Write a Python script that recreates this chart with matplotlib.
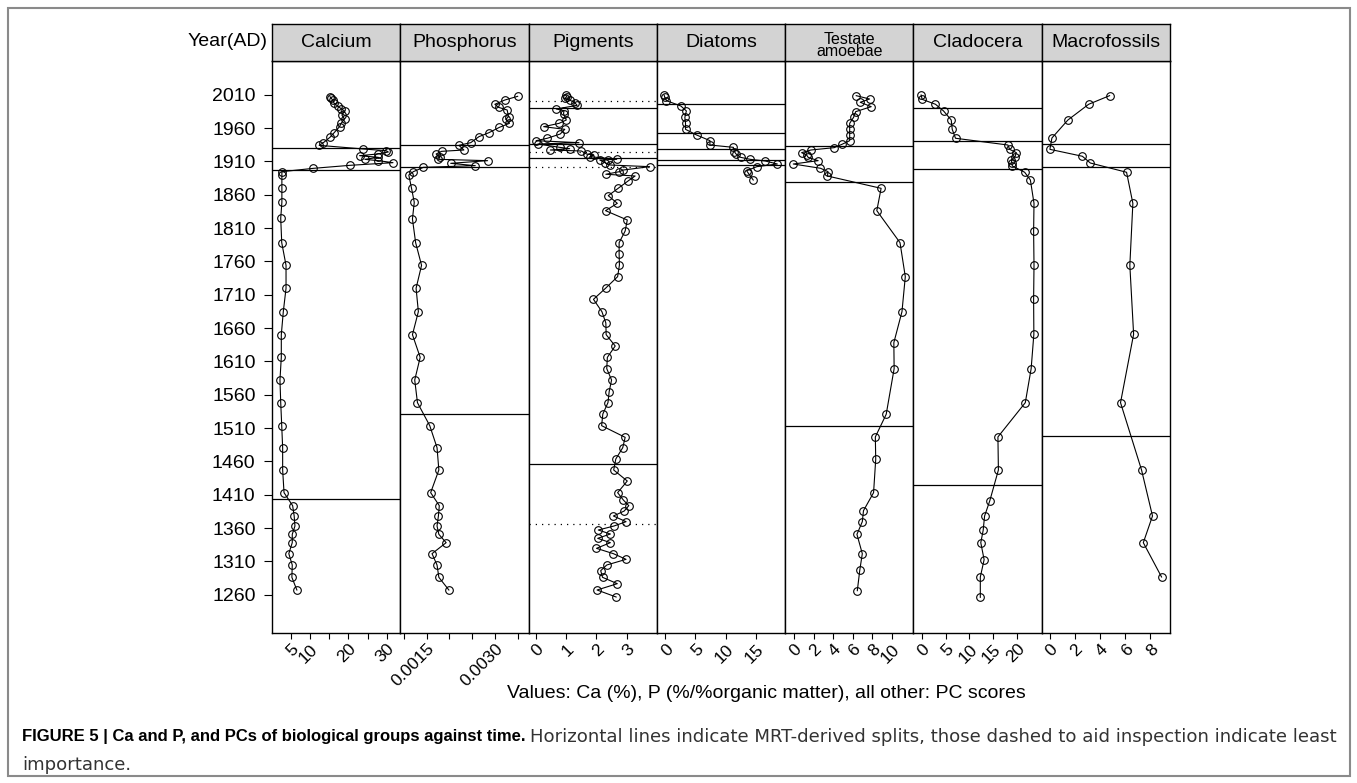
import matplotlib
matplotlib.use('Agg')
import matplotlib.pyplot as plt
from matplotlib.patches import Rectangle

plt.rcParams['font.family'] = ['Liberation Sans', 'DejaVu Sans']

# ---------------- data ----------------
panel_names = ['Calcium', 'Phosphorus', 'Pigments', 'Diatoms', 'Testate\namoebae', 'Cladocera', 'Macrofossils']

ca_year = [2007, 2005, 2002, 1997, 1993, 1989, 1985.5, 1979.5, 1973.5, 1967, 1962, 1953, 1946, 1938, 1934,
           1928.5, 1926, 1924, 1921, 1918.5, 1916, 1913, 1911, 1908, 1904, 1899.5, 1894.5, 1889, 1870.5,
           1848.6, 1824.6, 1788, 1754, 1719.6, 1684.5, 1650, 1616, 1582, 1548, 1513.5, 1480.5, 1447, 1413,
           1393.5, 1378, 1363, 1350.5, 1338, 1321.5, 1304.5, 1286, 1267]
ca_val = [15.2, 15.5, 15.9, 16.3, 17.2, 18.1, 19.0, 18.3, 19.0, 18.1, 17.7, 16.3, 15.2, 13.5, 12.4,
          23.9, 29.8, 30.4, 27.6, 22.9, 27.8, 24.3, 27.8, 31.6, 20.4, 10.9, 2.7, 2.7, 2.7,
          2.7, 2.4, 2.66, 3.78, 3.78, 3.07, 2.55, 2.55, 2.2, 2.4, 2.66, 2.9, 2.9, 3.26,
          5.5, 5.9, 6.1, 5.4, 5.4, 4.5, 5.4, 5.3, 6.6]

p_year = [2007.5, 2002, 1995.6, 1991, 1987, 1977, 1973, 1967, 1961, 1953, 1947, 1938, 1934, 1927, 1925,
          1921, 1916, 1913, 1911, 1907, 1903.5, 1901, 1894.5, 1889.5, 1869.5, 1848.6, 1823.5, 1788, 1754,
          1719.6, 1684.5, 1650, 1616, 1582, 1548, 1513.5, 1480.5, 1447, 1413, 1393.5, 1378, 1363, 1350.5,
          1338, 1321.5, 1304.5, 1286, 1267]
p_val = [0.00350, 0.00322, 0.00300, 0.00308, 0.00327, 0.00330, 0.00324, 0.00332, 0.00310, 0.00287, 0.00265,
         0.00247, 0.00221, 0.00232, 0.00183, 0.00171, 0.00179, 0.00176, 0.00284, 0.00203, 0.00257, 0.00143,
         0.00121, 0.00111, 0.00117, 0.00123, 0.00119, 0.00126, 0.00139, 0.00127, 0.00132, 0.00119, 0.00136,
         0.00124, 0.00130, 0.00157, 0.00173, 0.00177, 0.00159, 0.00178, 0.00176, 0.00173, 0.00177, 0.00193,
         0.00162, 0.00173, 0.00177, 0.00199]

pig_year = [2009, 2007, 2004.5, 2002, 1998, 1994, 1988.5, 1986, 1981, 1972, 1967, 1962, 1958, 1951, 1944.6,
            1941, 1938, 1936, 1931, 1929, 1927, 1925.5, 1921, 1919.5, 1917, 1913, 1912.5, 1912, 1908, 1904.5,
            1902, 1897, 1894.5, 1890.6, 1888, 1881, 1869.6, 1858.5, 1847, 1836, 1822, 1805.5, 1788, 1771,
            1754.5, 1737, 1719.6, 1703, 1684.5, 1667.5, 1650, 1633, 1616, 1599, 1582, 1564.5, 1548, 1531,
            1513.5, 1496, 1480.5, 1463.5, 1447, 1430.5, 1413, 1402, 1393.5, 1385.5, 1378, 1369.5, 1363,
            1357, 1351, 1344.5, 1338, 1329.5, 1321.5, 1313, 1304.5, 1296, 1286, 1276.5, 1267, 1256.5]
pig_val = [0.98, 1.02, 0.95, 1.11, 1.28, 1.36, 0.67, 0.92, 0.91, 1.0, 0.76, 0.25, 0.95, 0.8, 0.37,
           0.0, 1.42, 0.06, 0.78, 1.11, 0.47, 1.5, 1.67, 1.91, 1.78, 2.67, 2.39, 2.11, 2.28, 2.45,
           3.76, 2.89, 2.76, 2.31, 3.28, 3.06, 2.72, 2.39, 2.69, 2.3, 3.02, 2.95, 2.75, 2.75,
           2.76, 2.7, 2.3, 1.9, 2.18, 2.31, 2.32, 2.62, 2.36, 2.34, 2.5, 2.42, 2.38, 2.21,
           2.17, 2.95, 2.87, 2.64, 2.57, 3.02, 2.7, 2.89, 3.07, 2.92, 2.56, 2.98, 2.58,
           2.06, 2.46, 2.04, 2.46, 2.0, 2.56, 2.98, 2.34, 2.14, 2.2, 2.69, 2.02, 2.65]

dia_year = [2009.5, 2006, 2001, 1993, 1985.6, 1976, 1967, 1958, 1949.5, 1941, 1934.5, 1931, 1924.5, 1921,
            1916, 1913, 1910.5, 1906, 1902, 1896, 1892, 1882]
dia_val = [-0.2, -0.08, 0.2, 2.58, 3.5, 3.25, 3.36, 3.36, 5.2, 7.42, 7.4, 11.3, 11.47, 11.75,
           12.5, 14.1, 16.6, 18.6, 15.2, 13.5, 13.8, 14.6]

tes_year = [2008.5, 2003.5, 1998.6, 1992, 1984.5, 1976, 1967, 1958, 1949.5, 1941, 1935.5, 1930.5, 1927, 1923,
            1919.5, 1916, 1911, 1906, 1899.6, 1894.5, 1888, 1869.5, 1836, 1788, 1737, 1684.5, 1638, 1599,
            1530.6, 1496.6, 1463, 1413, 1386, 1369.5, 1350.5, 1321.5, 1296.6, 1266]
tes_val = [6.36, 7.72, 6.77, 7.89, 6.3, 6.09, 5.69, 5.69, 5.69, 5.69, 4.9, 4.1, 1.73, 0.78,
           1.29, 1.45, 2.47, -0.07, 2.71, 3.48, 3.42, 8.9, 8.46, 10.83, 11.37, 11.03, 10.2, 10.23,
           9.42, 8.31, 8.35, 8.13, 7.1, 6.98, 6.43, 6.98, 6.72, 6.47]

cla_year = [2009.5, 2003, 1995.6, 1985.6, 1972, 1958, 1944.6, 1934.5, 1928, 1923, 1917, 1912, 1907, 1903,
            1893.6, 1882, 1847, 1805, 1754, 1703, 1650.6, 1599, 1548, 1496.6, 1447, 1401, 1378, 1356.5,
            1338, 1312.5, 1286.5, 1256]
cla_val = [-0.13, 0.08, 2.88, 4.57, 6.19, 6.4, 7.09, 18.1, 18.46, 19.87, 19.58, 18.82, 18.95, 19.03,
           21.62, 22.82, 23.58, 23.5, 23.58, 23.5, 23.55, 22.98, 21.75, 16.0, 16.1, 14.3, 13.2, 12.9,
           12.4, 13.1, 12.3, 12.3]

mac_year = [2008.5, 1995.6, 1972, 1945, 1928, 1917.6, 1907.5, 1893.6, 1847, 1754, 1650.6, 1548, 1447,
            1378, 1338, 1286.5]
mac_val = [4.76, 3.1, 1.45, 0.18, 0.02, 2.6, 3.23, 6.11, 6.61, 6.37, 6.67, 5.63, 7.3,
           8.17, 7.44, 8.89]

# MRT splits (solid) and least-important splits (dotted)
ca_split = [1930.5, 1897, 1403]
p_split = [1935, 1902, 1531]
pig_split = [1990.5, 1935.6, 1914.6, 1455.5]
pig_split_minor = [2000, 1923.6, 1902, 1366.5]
dia_split = [1995.5, 1953, 1928, 1911.5, 1904.5]
tes_split = [1933, 1878.6, 1513.5]
cla_split = [1990.5, 1940.5, 1898, 1424.5]
mac_split = [1936, 1901, 1497.6]

year_ticks = [2010, 1960, 1910, 1860, 1810, 1760, 1710, 1660, 1610, 1560, 1510, 1460, 1410, 1360, 1310, 1260]

ca_ticks = [5, 10, 15, 20, 25, 30]
ca_labels = ['5', '10', '', '20', '', '30']
p_ticks = [0.0010, 0.0015, 0.0020, 0.0025, 0.0030, 0.0035]
p_labels = ['', '0.0015', '', '', '0.0030', '']
pig_ticks = [0, 1, 2, 3]
dia_ticks = [0, 5, 10, 15]
tes_ticks = [0, 2, 4, 6, 8, 10]
cla_ticks = [0, 5, 10, 15, 20]
mac_ticks = [0, 2, 4, 6, 8]

x_label = 'Values: Ca (%), P (%/%organic matter), all other: PC scores'
cap_bold = 'FIGURE 5 | Ca and P, and PCs of biological groups against time.'
cap_rest = 'Horizontal lines indicate MRT-derived splits, those dashed to aid inspection indicate least'
cap_line2 = 'importance.'

# ---------------- layout ----------------
W, H = 1357, 783
fig = plt.figure(figsize=(W / 100, H / 100), dpi=100)


def fx(px):
    return px / W


def fy(py):
    return 1 - py / H


left, right = 272, 1170
strip_top, strip_bot, panel_bot = 24, 61, 633
pw = (right - left) / 7

panels = [
    (ca_val, ca_year, ca_split, [], ca_ticks, ca_labels, (0.13, 33.5)),
    (p_val, p_year, p_split, [], p_ticks, p_labels, (0.000923, 0.00374)),
    (pig_val, pig_year, pig_split, pig_split_minor, pig_ticks, [str(t) for t in pig_ticks], (-0.25, 4.0)),
    (dia_val, dia_year, dia_split, [], dia_ticks, [str(t) for t in dia_ticks], (-1.4, 19.9)),
    (tes_val, tes_year, tes_split, [], tes_ticks, [str(t) for t in tes_ticks], (-0.9, 12.2)),
    (cla_val, cla_year, cla_split, [], cla_ticks, [str(t) for t in cla_ticks], (-1.75, 25.2)),
    (mac_val, mac_year, mac_split, [], mac_ticks, [str(t) for t in mac_ticks], (-0.63, 9.56)),
]

for i, (vals, yrs, splits, minor, ticks, labels, xlim) in enumerate(panels):
    x0 = left + i * pw
    ax = fig.add_axes([fx(x0), fy(panel_bot), pw / W, (panel_bot - strip_bot) / H])
    for s in ax.spines.values():
        s.set_linewidth(1.0)
        s.set_color('black')
    for y in splits:
        ax.axhline(y, color='black', lw=0.9, zorder=1)
    for y in minor:
        ax.axhline(y, color='black', lw=0.9, ls=(0, (1, 4)), zorder=1)
    ax.plot(vals, yrs, '-', color='black', lw=0.8, marker='o', ms=5.5, mfc='none',
            mec='black', mew=0.8, zorder=2)
    ax.set_xlim(*xlim)
    ax.set_ylim(1202.5, 2060.5)
    ax.set_xticks(ticks)
    ax.set_xticklabels(labels)
    ax.tick_params(axis='x', direction='out', length=4.5, width=0.8, pad=1.5, labelsize=12.5)
    for lab in ax.get_xticklabels():
        lab.set_rotation(45)
        lab.set_ha('right')
        lab.set_va('top')
        lab.set_rotation_mode('anchor')
    if i == 0:
        ax.set_yticks(year_ticks)
        ax.set_yticklabels([str(t) for t in year_ticks])
        ax.tick_params(axis='y', direction='out', length=5.8, width=0.8, pad=6, labelsize=14)
    else:
        ax.set_yticks([])
    # strip
    sax = fig.add_axes([fx(x0), fy(strip_bot), pw / W, (strip_bot - strip_top) / H])
    sax.set_facecolor('#D3D3D3')
    sax.set_xticks([])
    sax.set_yticks([])
    for s in sax.spines.values():
        s.set_linewidth(1.0)
    if '\n' in panel_names[i]:
        sax.text(0.5, 0.42, panel_names[i], ha='center', va='center', fontsize=11.5,
                 linespacing=0.8, transform=sax.transAxes)
    else:
        sax.text(0.5, 0.5, panel_names[i], ha='center', va='center', fontsize=14,
                 transform=sax.transAxes)

fig.text(fx(268), fy(42), 'Year(AD)', ha='right', va='center', fontsize=14)
fig.text(fx(766), fy(693), x_label, ha='center', va='center', fontsize=14)

# outer frame
fig.patches.append(Rectangle((fx(8), fy(776)), (1350 - 8) / W, (776 - 8) / H, transform=fig.transFigure,
                             fill=False, edgecolor='#8a8a8a', lw=1.5))

# caption
t1 = fig.text(fx(22), fy(737), cap_bold, fontweight='bold', fontsize=12, ha='left', va='center')
fig.canvas.draw()
bb = t1.get_window_extent(fig.canvas.get_renderer())
fig.text((bb.x1 + 5) / W, fy(737), cap_rest, fontsize=13.1, ha='left', va='center', color='#333333',
         family=['DejaVu Sans'])
fig.text(fx(22), fy(765), cap_line2, fontsize=13.1, ha='left', va='center', color='#333333',
         family=['DejaVu Sans'])

fig.savefig('out.png', dpi=100)
